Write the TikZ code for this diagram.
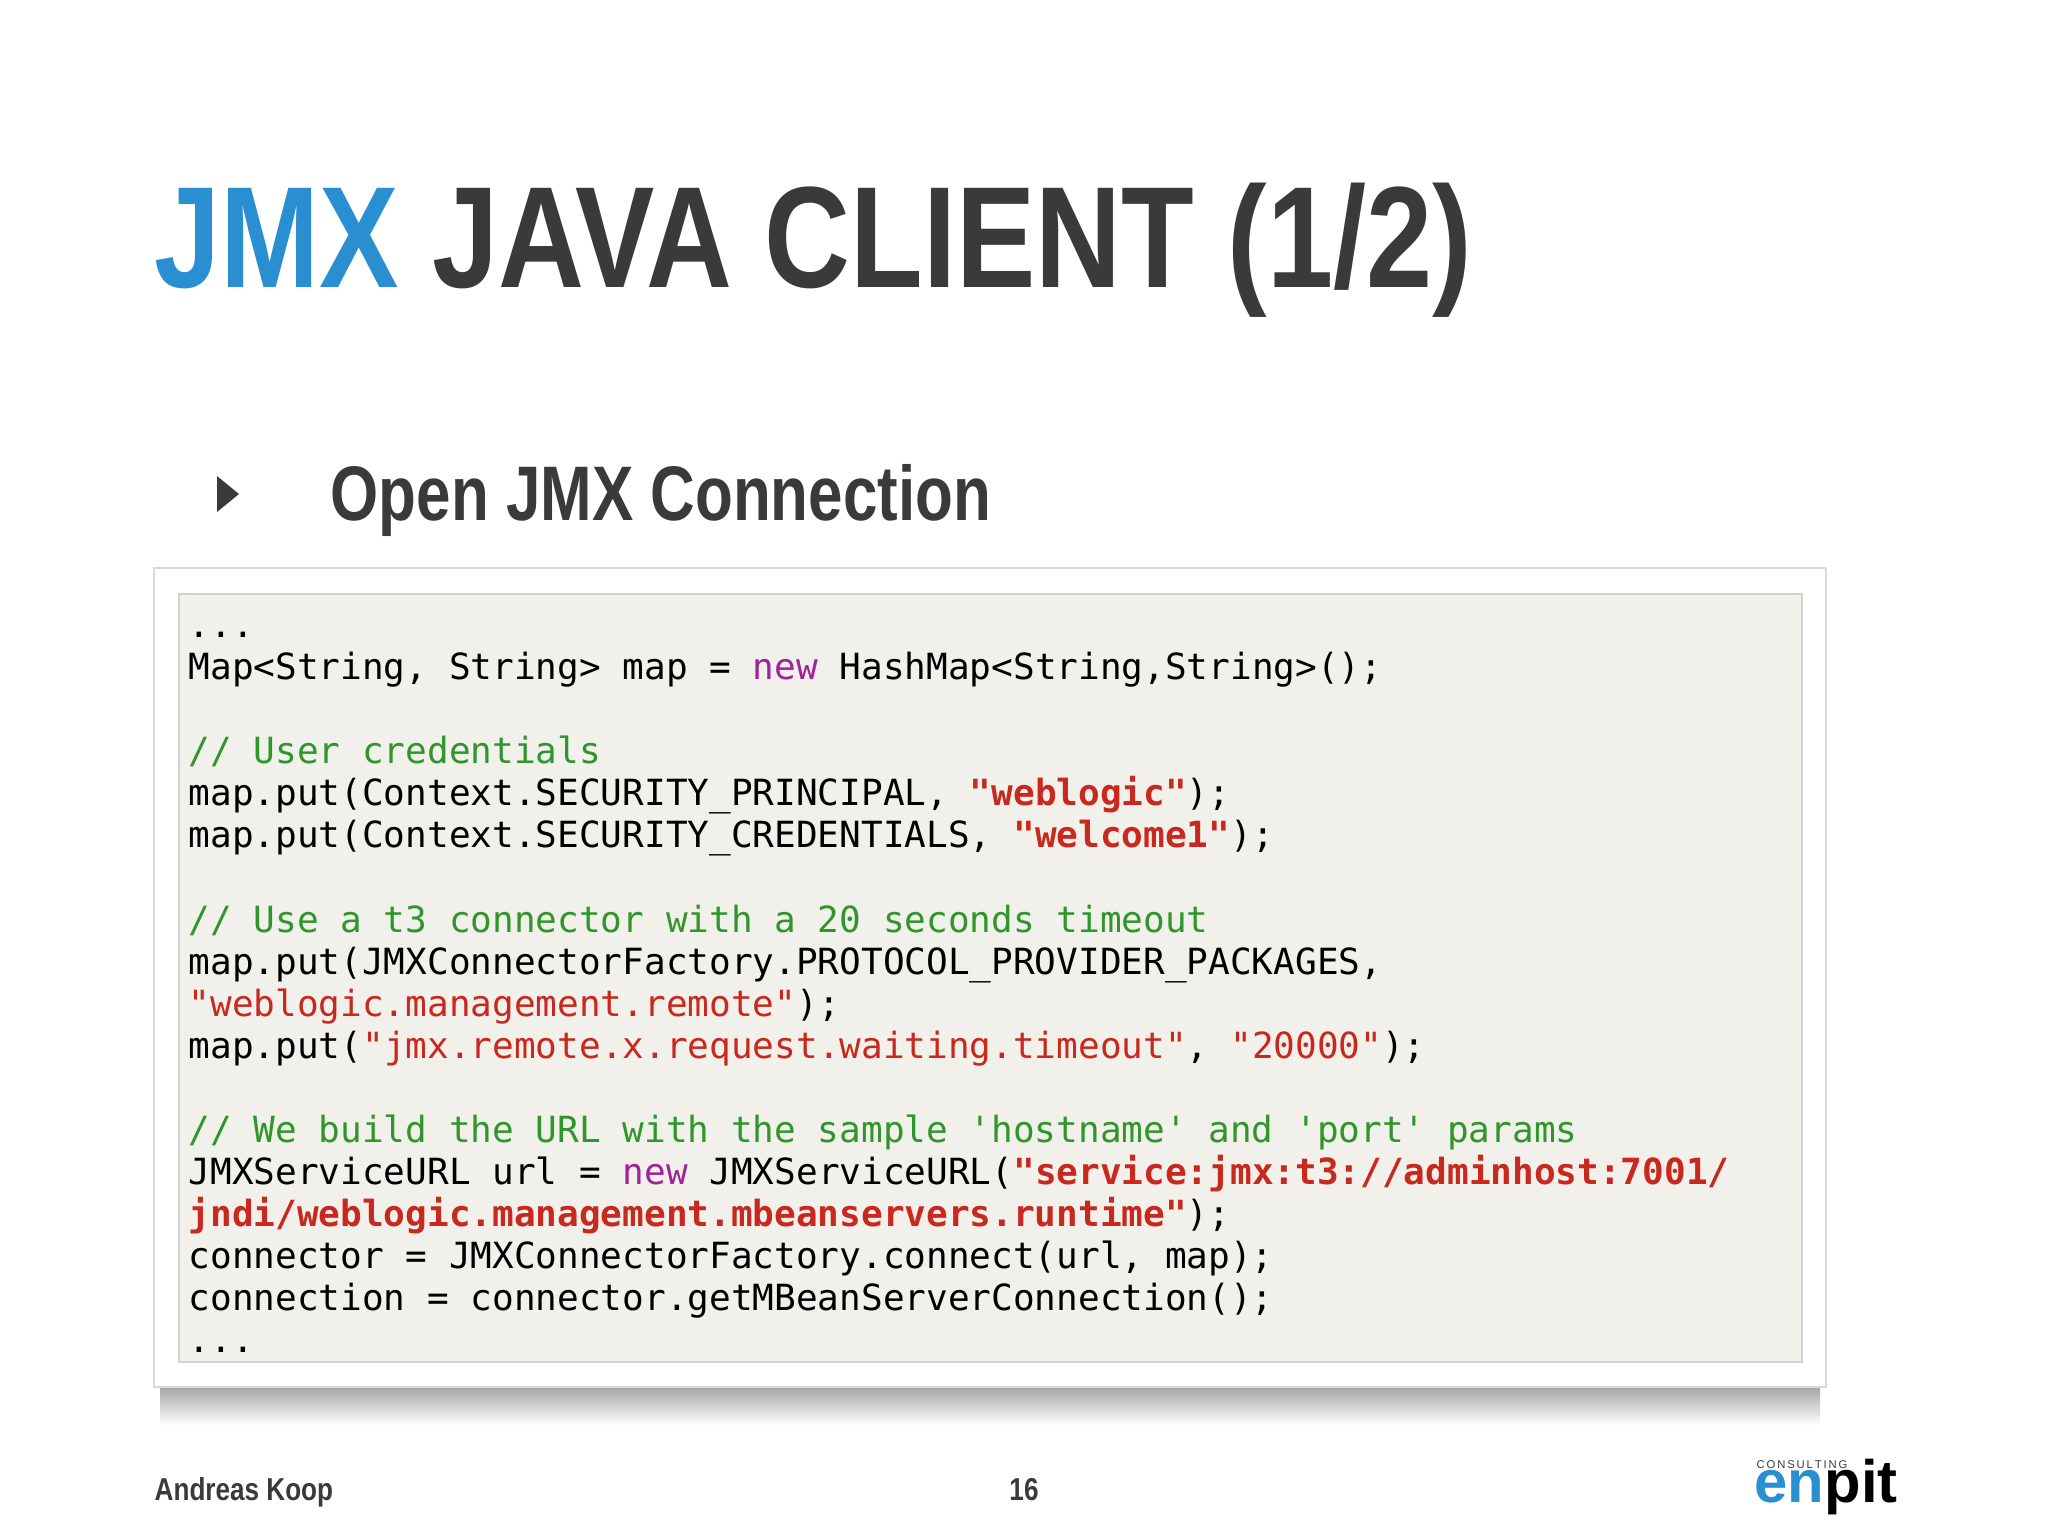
\documentclass[tikz,border=0pt]{standalone}
\usepackage{fontspec}
\setmainfont{Liberation Sans}
\setmonofont{DejaVu Sans Mono}
\newfontfamily\cond[FakeStretch=0.825]{Liberation Sans}
\newfontfamily\condb[FakeStretch=0.8]{Liberation Sans}
\definecolor{jblue}{HTML}{2A8FD0}
\definecolor{jdark}{HTML}{3A3A3A}
\definecolor{kw}{HTML}{A0229A}
\definecolor{cm}{HTML}{2E962A}
\definecolor{st}{HTML}{C8281E}
\definecolor{codebg}{HTML}{F2F0EA}
\tikzset{code/.style={anchor=base west,inner sep=0pt,font=\ttfamily\fontsize{10.25pt}{12pt}\selectfont,text=black}}
\newcommand{\kwx}[1]{\textcolor{kw}{#1}}
\newcommand{\cmx}[1]{\textcolor{cm}{#1}}
\newcommand{\stx}[1]{\textcolor{st}{#1}}
\newcommand{\sbx}[1]{\textcolor{st}{\bfseries #1}}
\begin{document}
\begin{tikzpicture}[x=0.01cm,y=-0.01cm]
\useasboundingbox[fill=white] (0,0) rectangle (2048,1536);
% title
\node[anchor=base west,inner sep=0pt,font=\cond\bfseries\fontsize{41pt}{45pt}\selectfont] (title) at (154,287) {\textcolor{jblue}{JMX} \textcolor{jdark}{JAVA CLIENT (1/2)}};
% bullet
\fill[jdark] (217,476) -- (239,494) -- (217,512) -- cycle;
\node[anchor=base west,inner sep=0pt,font=\condb\bfseries\fontsize{22pt}{26pt}\selectfont,text=jdark] (sub) at (330,520) {Open JMX Connection};
% shadow
\shade[top color=gray!70,bottom color=white] (160,1387) rectangle (1820,1425);
% box
\draw[white!85!black,fill=white] (154,568) rectangle (1826,1387);
\draw[white!82!black,fill=codebg] (179,594) rectangle (1802,1362);
% code
\node[code] (l1) at (188,637) {...};
\node[code] (l2) at (188,679) {Map<String, String> map = \kwx{new} HashMap<String,String>();};
\node[code] (l4) at (188,763) {\cmx{// User credentials}};
\node[code] (l5) at (188,805) {map.put(Context.SECURITY\_PRINCIPAL, \sbx{"weblogic"});};
\node[code] (l6) at (188,847) {map.put(Context.SECURITY\_CREDENTIALS, \sbx{"welcome1"});};
\node[code] (l8) at (188,932) {\cmx{// Use a t3 connector with a 20 seconds timeout}};
\node[code] (l9) at (188,974) {map.put(JMXConnectorFactory.PROTOCOL\_PROVIDER\_PACKAGES,};
\node[code] (l10) at (188,1016) {\stx{"weblogic.management.remote"});};
\node[code] (l11) at (188,1058) {map.put(\stx{"jmx.remote.x.request.waiting.timeout"}, \stx{"20000"});};
\node[code] (l13) at (188,1142) {\cmx{// We build the URL with the sample 'hostname' and 'port' params}};
\node[code] (l14) at (188,1184) {JMXServiceURL url = \kwx{new} JMXServiceURL(\sbx{"service:jmx:t3://adminhost:7001/}};
\node[code] (l15) at (188,1226) {\sbx{jndi/weblogic.management.mbeanservers.runtime"});};
\node[code] (l16) at (188,1268) {connector = JMXConnectorFactory.connect(url, map);};
\node[code] (l17) at (188,1310) {connection = connector.getMBeanServerConnection();};
\node[code] (l18) at (188,1352) {...};
% footer
\node[anchor=base west,inner sep=0pt,font=\cond\bfseries\fontsize{9pt}{11pt}\selectfont,text=jdark] (auth) at (154,1500) {Andreas Koop};
\node[anchor=base,inner sep=0pt,font=\cond\bfseries\fontsize{9pt}{11pt}\selectfont,text=jdark] (page) at (1024,1500) {16};
\node[anchor=base west,inner sep=0pt,font=\bfseries\fontsize{17pt}{19pt}\selectfont] (logo) at (1754,1502) {\textcolor{jblue}{en}\textcolor{black}{pit}};
\node[anchor=base west,inner sep=0pt,font=\fontsize{3.2pt}{4pt}\selectfont,text=jdark] (cons) at (1756,1468) {C\,O\,N\,S\,U\,L\,T\,I\,N\,G};
\end{tikzpicture}
\end{document}
